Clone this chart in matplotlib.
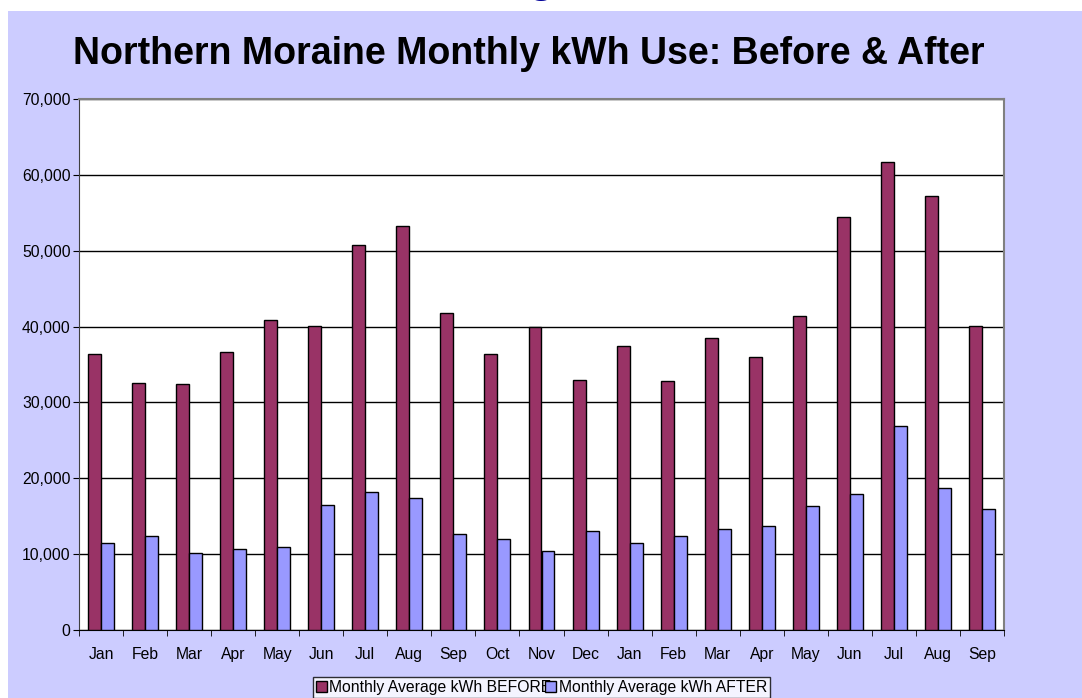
import matplotlib.pyplot as plt
import numpy as np
from matplotlib.patches import Rectangle
from matplotlib.ticker import FuncFormatter, FixedLocator

plt.rcParams['font.family'] = ['Liberation Sans', 'DejaVu Sans']

months = ['Jan', 'Feb', 'Mar', 'Apr', 'May', 'Jun', 'Jul', 'Aug', 'Sep', 'Oct', 'Nov',
          'Dec', 'Jan', 'Feb', 'Mar', 'Apr', 'May', 'Jun', 'Jul', 'Aug', 'Sep']
before = [36400, 32600, 32400, 36600, 40900, 40100, 50750, 53300, 41850, 36450, 40000,
          32950, 37500, 32800, 38500, 36000, 41400, 54500, 61700, 57200, 40100]
after = [11500, 12450, 10200, 10650, 10900, 16450, 18150, 17350, 12600, 11950, 10400,
         13050, 11500, 12350, 13300, 13650, 16400, 17900, 26900, 18700, 15900]

fig = plt.figure(figsize=(10.82, 6.98), dpi=100)
fig.patch.set_facecolor('white')

# cut-off slide heading above the chart (only the descender shows)
fig.text(541 / 1082, 1 + 8 / 698, 'g', color='#000099', fontsize=32, fontweight='bold',
         ha='center', va='baseline', zorder=0)
bg = Rectangle((8 / 1082, 0), 1, 1 - 11 / 698, transform=fig.transFigure,
               facecolor='#CCCCFF', edgecolor='none', zorder=1)
fig.patches.append(bg)

fig.text(0.4885, 1 - 54 / 698, 'Northern Moraine Monthly kWh Use: Before & After',
         fontsize=27, fontweight='bold', ha='center', va='center', zorder=2)

ax = fig.add_axes([79 / 1082, 1 - 630 / 698, 925 / 1082, 531 / 698], zorder=3)
ax.set_facecolor('white')

x = np.arange(len(months))
w = 0.295
ax.bar(x - w / 2, before, w, color='#993366', edgecolor='black', linewidth=1,
       label='Monthly Average kWh BEFORE', zorder=3)
ax.bar(x + w / 2, after, w, color='#9999FF', edgecolor='black', linewidth=1,
       label='Monthly Average kWh AFTER', zorder=3)

ax.set_xlim(-0.5, len(months) - 0.5)
ax.set_ylim(0, 70000)
ax.set_yticks(np.arange(0, 70001, 10000))
ax.yaxis.set_major_formatter(FuncFormatter(lambda v, p: f'{int(v):,}'))
ax.yaxis.grid(True, color='black', linewidth=1, zorder=0)
ax.set_axisbelow(True)

ax.set_xticks(x)
ax.set_xticklabels(months)
ax.xaxis.set_minor_locator(FixedLocator(np.arange(-0.5, len(months), 1)))
ax.tick_params(axis='x', which='major', length=0, pad=12, labelsize=11.3)
ax.tick_params(axis='x', which='minor', length=4, direction='out', color='black')
ax.tick_params(axis='y', length=4, direction='out', labelsize=11.3, pad=2)

for s in ['top', 'right']:
    ax.spines[s].set_color('#808080')
    ax.spines[s].set_linewidth(1.5)
ax.spines['left'].set_color('#404040')
ax.spines['bottom'].set_color('black')

leg = fig.legend(loc='upper left', bbox_to_anchor=(313 / 1082, 1 - 677 / 698),
                 ncol=2, fontsize=11.3, frameon=True, fancybox=False,
                 handlelength=0.7, handleheight=0.7, handletextpad=0.15,
                 columnspacing=-0.4, borderpad=0.2, borderaxespad=0)
leg.get_frame().set_edgecolor('black')
leg.get_frame().set_linewidth(1)
leg.set_zorder(4)

fig.savefig('out.png', dpi=100)
